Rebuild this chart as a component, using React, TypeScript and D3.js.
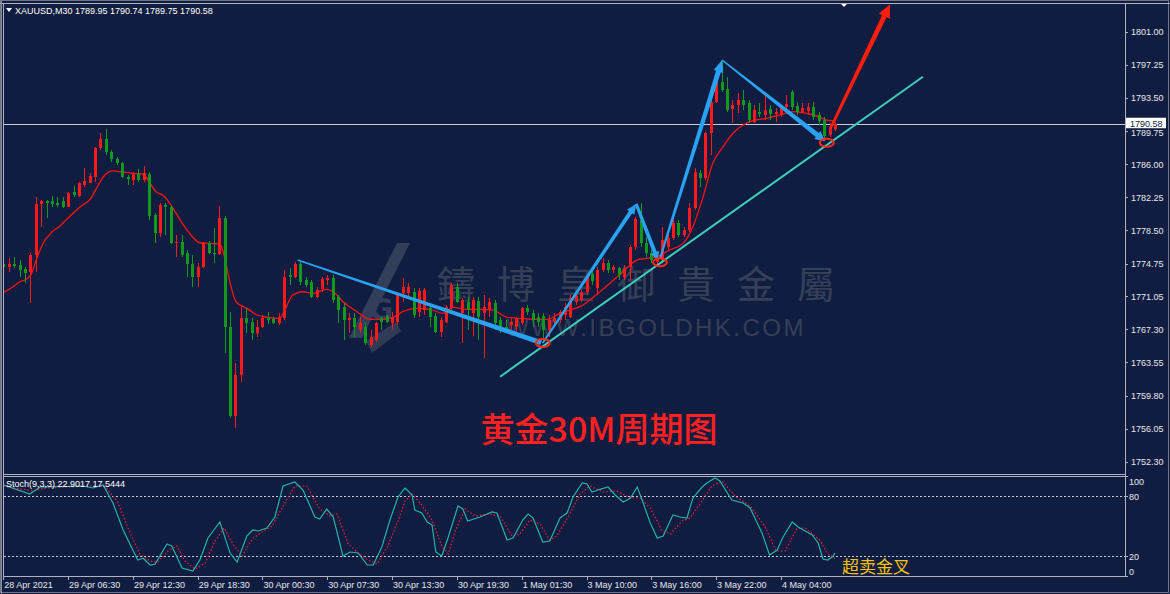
import React from "react";
import * as d3 from "d3";

// ---------- DATA ----------
const openP = [
  1774.69, 1774.35, 1774.69, 1774.58, 1774.13, 1773.79, 1775.71, 1781.49, 1781.83, 1781.83,
  1781.60, 1781.83, 1781.15, 1782.85, 1782.39, 1783.64, 1783.87, 1784.55, 1787.83, 1788.85,
  1787.38, 1786.58, 1786.13, 1784.55, 1784.21, 1784.88, 1784.21, 1784.88, 1780.24, 1778.20,
  1781.37, 1781.15, 1777.07, 1777.18, 1775.94, 1774.69, 1773.22, 1774.35, 1777.07, 1775.94,
  1775.82, 1779.90, 1767.56, 1757.48, 1762.12, 1768.58, 1768.12, 1766.88, 1767.56, 1768.58,
  1768.46, 1768.01, 1768.58, 1773.45, 1773.22, 1774.69, 1772.88, 1772.65, 1770.96, 1771.86,
  1772.88, 1773.11, 1770.96, 1769.82, 1768.35, 1768.58, 1767.22, 1767.56, 1765.52, 1766.09,
  1768.58, 1768.80, 1768.01, 1768.12, 1771.41, 1771.41, 1771.52, 1769.26, 1769.48, 1769.71,
  1768.80, 1766.99, 1768.12, 1769.71, 1772.09, 1769.14, 1770.39, 1769.14, 1770.50, 1769.14,
  1769.48, 1770.28, 1768.35, 1767.56, 1767.78, 1767.56, 1768.01, 1769.71, 1769.14, 1768.69,
  1768.80, 1767.22, 1768.12, 1768.35, 1768.92, 1768.69, 1770.39, 1770.62, 1771.52, 1773.56,
  1771.97, 1774.01, 1774.81, 1774.01, 1774.24, 1773.22, 1774.35, 1776.62, 1779.68, 1777.07,
  1775.94, 1774.92, 1775.15, 1776.62, 1777.64, 1779.34, 1777.98, 1778.54, 1781.03, 1785.00,
  1784.43, 1789.53, 1793.04, 1795.30, 1794.51, 1792.25, 1792.70, 1793.27, 1792.93, 1790.77,
  1791.91, 1791.57, 1792.25, 1791.68, 1791.68, 1792.47, 1794.17, 1792.59, 1791.91, 1792.02,
  1792.47, 1791.57, 1791.00, 1789.30, 1789.95,
];
const highP = [
  1775.49, 1775.37, 1775.49, 1775.15, 1774.35, 1775.94, 1782.28, 1781.94, 1781.94, 1782.39,
  1782.28, 1782.28, 1782.85, 1783.53, 1783.98, 1785.56, 1785.00, 1787.94, 1789.53, 1789.98,
  1787.60, 1786.81, 1786.24, 1784.77, 1785.11, 1785.45, 1785.79, 1785.11, 1780.47, 1781.60,
  1781.60, 1781.37, 1777.98, 1777.98, 1776.28, 1775.71, 1774.81, 1777.18, 1777.30, 1778.77,
  1781.26, 1780.13, 1769.26, 1763.48, 1769.82, 1769.71, 1768.58, 1768.35, 1768.92, 1769.26,
  1768.69, 1769.14, 1774.01, 1774.24, 1774.92, 1774.92, 1773.22, 1772.88, 1772.09, 1773.22,
  1773.45, 1773.45, 1771.18, 1770.28, 1769.14, 1769.14, 1768.69, 1768.01, 1767.22, 1768.12,
  1768.69, 1768.92, 1769.26, 1771.52, 1773.11, 1772.54, 1771.97, 1771.97, 1771.97, 1770.05,
  1769.14, 1768.69, 1770.05, 1772.54, 1772.54, 1770.84, 1770.96, 1770.96, 1770.96, 1771.18,
  1770.84, 1770.62, 1768.69, 1768.35, 1768.58, 1768.69, 1769.82, 1770.05, 1769.48, 1769.14,
  1769.14, 1768.92, 1769.14, 1769.48, 1770.28, 1771.18, 1771.41, 1771.86, 1773.45, 1774.01,
  1774.35, 1775.37, 1775.15, 1774.58, 1774.35, 1774.58, 1776.84, 1780.01, 1781.60, 1777.75,
  1776.28, 1775.94, 1778.88, 1777.98, 1779.68, 1779.68, 1778.88, 1781.60, 1785.56, 1785.34,
  1789.64, 1793.27, 1796.10, 1797.70, 1795.87, 1793.27, 1794.06, 1794.40, 1793.27, 1792.70,
  1792.93, 1793.83, 1792.70, 1792.36, 1792.70, 1793.83, 1794.40, 1793.04, 1792.93, 1792.93,
  1793.04, 1791.91, 1791.34, 1790.66, 1790.74,
];
const lowP = [
  1774.01, 1773.79, 1774.24, 1773.22, 1772.54, 1770.28, 1773.79, 1778.88, 1779.90, 1781.15,
  1781.15, 1781.03, 1781.15, 1782.28, 1782.28, 1783.41, 1783.87, 1783.98, 1787.60, 1787.04,
  1786.24, 1785.90, 1784.43, 1783.64, 1783.64, 1783.98, 1783.98, 1779.68, 1777.07, 1777.75,
  1777.98, 1776.96, 1775.49, 1775.49, 1773.22, 1772.09, 1772.09, 1774.24, 1775.82, 1774.81,
  1775.71, 1764.61, 1757.30, 1756.12, 1761.33, 1766.88, 1766.09, 1766.43, 1767.44, 1767.90,
  1767.90, 1767.78, 1768.35, 1772.31, 1773.11, 1772.31, 1772.09, 1770.84, 1770.84, 1771.52,
  1772.31, 1770.28, 1768.01, 1766.09, 1766.88, 1766.43, 1766.88, 1765.52, 1765.29, 1765.86,
  1767.22, 1768.01, 1767.22, 1767.78, 1770.39, 1770.96, 1768.58, 1768.69, 1768.92, 1767.56,
  1766.88, 1766.43, 1768.01, 1769.48, 1770.28, 1765.75, 1767.22, 1766.50, 1766.09, 1764.05,
  1768.69, 1767.22, 1766.88, 1766.88, 1767.22, 1766.88, 1767.78, 1768.92, 1767.56, 1767.56,
  1765.75, 1766.43, 1767.78, 1768.01, 1768.35, 1768.58, 1770.05, 1770.39, 1771.30, 1772.31,
  1771.18, 1773.79, 1773.67, 1773.67, 1772.88, 1772.88, 1772.88, 1776.28, 1776.62, 1775.49,
  1774.81, 1774.58, 1774.81, 1776.28, 1777.41, 1777.75, 1777.75, 1778.32, 1780.81, 1783.41,
  1784.21, 1787.04, 1792.93, 1794.17, 1791.91, 1790.66, 1791.79, 1792.13, 1790.77, 1790.66,
  1791.34, 1791.00, 1791.00, 1790.77, 1791.34, 1791.91, 1792.13, 1791.57, 1791.79, 1791.57,
  1791.00, 1790.43, 1788.70, 1789.08, 1789.75,
];
const closeP = [
  1774.35, 1774.69, 1774.47, 1774.01, 1773.67, 1775.71, 1781.49, 1781.83, 1781.60, 1781.49,
  1781.37, 1781.15, 1782.73, 1782.51, 1783.87, 1784.09, 1784.66, 1787.83, 1788.85, 1787.38,
  1786.58, 1786.13, 1784.55, 1784.32, 1784.88, 1784.21, 1785.00, 1780.13, 1778.20, 1781.37,
  1781.15, 1777.07, 1777.18, 1775.71, 1774.69, 1773.22, 1774.35, 1777.07, 1775.94, 1775.82,
  1779.90, 1767.56, 1757.48, 1762.12, 1768.58, 1768.01, 1766.88, 1767.56, 1768.58, 1768.35,
  1768.01, 1768.69, 1773.22, 1773.22, 1774.69, 1772.65, 1772.31, 1770.96, 1771.75, 1772.99,
  1773.11, 1770.62, 1769.48, 1768.35, 1768.58, 1767.56, 1768.01, 1765.75, 1766.43, 1768.01,
  1768.12, 1768.12, 1768.69, 1771.41, 1772.09, 1772.09, 1768.92, 1771.63, 1771.75, 1768.69,
  1766.99, 1768.35, 1769.82, 1772.31, 1770.39, 1770.62, 1769.48, 1770.62, 1768.69, 1769.82,
  1770.39, 1768.01, 1767.22, 1767.22, 1768.12, 1768.58, 1769.71, 1769.26, 1768.35, 1768.12,
  1767.22, 1768.35, 1768.58, 1769.26, 1769.82, 1770.84, 1771.07, 1771.52, 1773.22, 1772.77,
  1774.01, 1774.81, 1774.01, 1774.35, 1773.45, 1774.24, 1776.62, 1779.79, 1777.07, 1775.94,
  1775.15, 1775.49, 1777.41, 1777.64, 1779.34, 1777.98, 1778.54, 1781.03, 1785.11, 1784.43,
  1789.53, 1793.04, 1795.30, 1794.40, 1792.13, 1792.70, 1793.27, 1792.70, 1791.00, 1792.13,
  1791.68, 1792.13, 1791.68, 1791.91, 1792.47, 1792.81, 1792.47, 1791.91, 1792.36, 1792.47,
  1791.34, 1790.89, 1789.19, 1790.21, 1790.58,
];

// moving average (at sample bars)
const maIdx = [
  0, 1.8, 3.1, 4.0, 5.1, 6.1, 7.4, 9.0, 10.5, 12.0, 14.2, 16.1, 17.4, 18.5, 20.3, 21.6, 24.0, 25.9,
  26.8, 28.1, 29.9, 31.4, 33.1, 34.9, 36.4, 38.3, 40.1, 41.1, 42.0, 43.1, 45.1, 47.0, 48.8, 51.1,
  53.6, 55.5, 57.4, 59.9, 61.1, 62.9, 65.5, 67.9, 70.3, 72.2, 74.0, 76.6, 79.0, 81.4, 83.3, 85.9,
  88.3, 90.7, 93.3, 95.7, 98.1, 100.7, 103.1, 104.9, 106.8, 110.5, 113.6, 115.5, 117.4, 119.2,
  121.0, 123.4, 125.9, 127.7, 129.6, 131.4, 133.3, 135.1, 137.0, 138.8, 141.4, 143.8, 146.2,
  148.8, 150.7, 152.5, 154,
];
const maVal = [
  1771.44, 1772.12, 1772.69, 1772.88, 1773.45, 1775.15, 1777.07, 1778.32, 1779.0, 1779.9, 1781.15,
  1782.05, 1783.41, 1784.55, 1785.23, 1785.15, 1784.96, 1784.88, 1784.21, 1782.99, 1782.31, 1781.03,
  1779.34, 1777.86, 1777.1, 1777.03, 1776.96, 1775.15, 1772.54, 1770.42, 1769.67, 1768.92, 1768.66,
  1768.54, 1771.18, 1771.55, 1771.37, 1771.83, 1771.55, 1770.42, 1769.29, 1768.43, 1768.43, 1768.66,
  1769.29, 1769.67, 1769.56, 1769.11, 1769.79, 1769.56, 1769.56, 1769.48, 1768.66, 1768.54, 1768.43,
  1768.43, 1769.11, 1769.48, 1769.86, 1771.55, 1773.2, 1774.24, 1775.15, 1775.34, 1775.52, 1776.28,
  1777.03, 1778.92, 1782.31, 1786.13, 1787.98, 1789.49, 1790.43, 1790.92, 1791.19, 1791.57, 1791.94,
  1791.76, 1791.45, 1791.0, 1790.92,
];

// Stochastic %K and %D (bar index, value)
const stochMain: [number, number][] = [
  [0, 91], [4.9, 82], [6.8, 89], [14.8, 90], [16.6, 88], [18.5, 91], [20.3, 73], [22.2, 46],
  [23.8, 28], [24.9, 16], [25.9, 17.7], [27.2, 11], [28.1, 11.7], [30.3, 32], [31.2, 30], [33.1, 8],
  [35.1, 5], [36.4, 16], [37.9, 38], [40.1, 54], [42, 23], [43.3, 14], [45.1, 40], [46.2, 46],
  [47.2, 45], [48.8, 48], [50.3, 59], [51.8, 90], [54, 94], [55.5, 86], [57.7, 59], [58.6, 57],
  [59.9, 67], [61.1, 59], [62.9, 20], [64.2, 24], [65.7, 23], [67.4, 11], [68.5, 11], [70.1, 29],
  [71.6, 56], [73.1, 79], [74.4, 88], [75.7, 81], [76.2, 66], [77.5, 63], [78.5, 54], [79.4, 51],
  [80.1, 24], [81.2, 20], [82.4, 39], [84.2, 70], [85.1, 67], [86, 55], [88.3, 59], [90.5, 64],
  [91.4, 63], [93.3, 36], [94.4, 38], [96.2, 56], [97.2, 62], [98.1, 58], [99.9, 34], [101.2, 35],
  [103.1, 58], [104.4, 63], [105.5, 79], [107.2, 93], [108.1, 92], [109, 84], [110.5, 86.7],
  [112, 89], [113.3, 81], [114.8, 74], [116.1, 77.7], [117.4, 89], [118.5, 73], [119.8, 53],
  [121.1, 38], [122.2, 40], [124, 61], [125.3, 59], [126.6, 58], [127.7, 78], [129.4, 89],
  [130.3, 93], [131.8, 98], [132.7, 95], [134.9, 76], [137, 73], [138.3, 68], [140.5, 43],
  [141.9, 21], [143.3, 26], [144.4, 39], [146.1, 54], [147.2, 49], [149.8, 41], [150.9, 33],
  [151.8, 17], [152.7, 16], [153.7, 20], [154, 22.9],
];
const stochSignal: [number, number][] = [
  [0, 90], [5.5, 85], [7.7, 88], [16.1, 90], [18.8, 90], [21.2, 74], [23.1, 48], [25.3, 22],
  [27.2, 15], [28.5, 14], [30.5, 25], [32.2, 30], [33.6, 15], [35.5, 7], [37.4, 13], [39.2, 35],
  [40.9, 48], [42.5, 32], [44.2, 20], [46.1, 37], [47.9, 44], [49.8, 50], [51.8, 70], [54, 90],
  [56.2, 90], [58.6, 67], [60.5, 60], [61.8, 62], [63.8, 33], [65.5, 24], [67.5, 16], [69.2, 12],
  [71.2, 30], [73.1, 55], [74.4, 75], [75.7, 82], [77.2, 73], [79.4, 56], [81.2, 30], [82.4, 22],
  [83.7, 45], [85.5, 67], [87.4, 60], [90.1, 62], [92, 60], [94.2, 40], [95.7, 42], [97.5, 56],
  [99.4, 52], [101.2, 36], [102.5, 40], [104.9, 62], [106.8, 82], [108.6, 90], [111.1, 84],
  [113.6, 85], [116.1, 78], [117.9, 78], [119.8, 68], [122, 45], [123.5, 42], [125.7, 55],
  [127.2, 58], [129, 72], [131.2, 90], [133.1, 95], [135.5, 80], [138.3, 70], [141, 50],
  [143.1, 25], [144.8, 25], [147, 48], [148.5, 48], [151.2, 36], [152.7, 22], [154, 17.54],
];

const priceTicks = [1801.0, 1797.25, 1793.5, 1789.75, 1786.0, 1782.25, 1778.5, 1774.75, 1771.05, 1767.3, 1763.55, 1759.8, 1756.05, 1752.3];
const stochTicks = [100, 80, 20, 0];
const stochLevels = [80, 20];
const timeTickIdx = [0, 12, 24, 36, 48, 60, 72, 84, 96, 108, 120, 132, 144];
const timeTickLabels = [
  "28 Apr 2021", "29 Apr 06:30", "29 Apr 12:30", "29 Apr 18:30", "30 Apr 00:30", "30 Apr 07:30",
  "30 Apr 13:30", "30 Apr 19:30", "1 May 01:30", "3 May 10:00", "3 May 16:00", "3 May 22:00", "4 May 04:00",
];
const lastPrice = 1790.58;

// drawn objects (bar index, price)
const blueLinePts: [number, number][] = [[54.5, 1775.15], [99.6, 1765.8]];
const blueArrowPts: [number, number][][] = [
  [[99.9, 1765.75], [117.2, 1781.5]],
  [[117.2, 1781.5], [121.2, 1775.15]],
  [[121.6, 1775.3], [133.1, 1797.8]],
  [[133.1, 1797.8], [152.2, 1788.6]],
];
const redArrowPts: [number, number][] = [[153.3, 1790.2], [164.2, 1804.1]];
const tealLinePts: [number, number][] = [[92.0, 1761.93], [170.3, 1795.9]];
const circlePts: [number, number][] = [[99.9, 1765.75], [121.6, 1774.88], [152.5, 1788.43]];

// ---------- DRAWING ----------
const BG = "#101d40";
const FRAME = "#aeb3bf";
const UP = "#ff1a1a";
const DOWN = "#119a1a";
const FONT = "'Liberation Sans', Arial, sans-serif";

function arrowPoly(p0: number[], p1: number[], w0: number, w1: number, hl: number, hw: number) {
  const dx = p1[0] - p0[0], dy = p1[1] - p0[1];
  const L = Math.hypot(dx, dy);
  const ux = dx / L, uy = dy / L;
  const nx = -uy, ny = ux;
  const sx = p1[0] - ux * hl, sy = p1[1] - uy * hl;
  const pts: number[][] = [
    [p0[0] + nx * w0 / 2, p0[1] + ny * w0 / 2],
    [sx + nx * w1 / 2, sy + ny * w1 / 2],
  ];
  if (hl > 0) {
    pts.push([sx + nx * hw / 2, sy + ny * hw / 2], [p1[0], p1[1]], [sx - nx * hw / 2, sy - ny * hw / 2]);
  } else {
    pts.push([p1[0] + nx * w1 / 2, p1[1] + ny * w1 / 2], [p1[0] - nx * w1 / 2, p1[1] - ny * w1 / 2]);
  }
  pts.push([sx - nx * w1 / 2, sy - ny * w1 / 2], [p0[0] - nx * w0 / 2, p0[1] - ny * w0 / 2]);
  return pts.map((p) => p.join(",")).join(" ");
}

export default function App() {
  const x = d3.scaleLinear().domain([0, 154]).range([3.3, 834.9]);
  const y = d3.scaleLinear().domain([1750.91, 1804.14]).range([474, 4]);
  const ys = d3.scaleLinear().domain([0, 100]).range([576, 476]);

  const P = (d: [number, number]) => [x(d[0]), y(d[1])];

  const maLine = d3
    .line<number>()
    .x((_, i) => x(maIdx[i]))
    .y((v) => y(v))
    .curve(d3.curveMonotoneX)(maVal) as string;

  const stLine = d3
    .line<[number, number]>()
    .x((d) => x(d[0]))
    .y((d) => ys(d[1]));

  const plotR = 1125;
  const lastY = y(lastPrice);

  return (
    <svg width={1170} height={594} style={{ position: "absolute", left: 0, top: 0, display: "block" }} fontFamily={FONT}>
      <defs>
        <clipPath id="mainClip"><rect x={4} y={5} width={plotR - 4} height={469} /></clipPath>
        <clipPath id="stClip"><rect x={4} y={477} width={plotR - 4} height={99} /></clipPath>
      </defs>
      <rect x={0} y={0} width={1170} height={594} fill={BG} />

      {/* watermark */}
      <g opacity={0.85}>
        <polygon points="397,243 410,243 362,338 349,338" fill="#3a4460" />
        <text x={381} y={320} fontSize={30} fontWeight="bold" fill="#3a4460" textAnchor="middle" fontFamily="'DejaVu Sans', sans-serif">G</text>
        <polygon points="366,341 396,322 401,331 372,353" fill="#36405a" />
        <text x={437} y={298} fontSize={38} fill="#3c455c" fontFamily="'Noto Sans CJK TC', sans-serif" letterSpacing={22}>鑄博皇御貴金屬</text>
        <text x={806} y={336} fontSize={24} fill="#3c455c" textAnchor="end" letterSpacing={2.5} fontFamily="'Liberation Sans', sans-serif">WWW.IBGOLDHK.COM</text>
      </g>

      <g clipPath="url(#mainClip)">
        {/* current price line */}
        <line x1={4} x2={plotR} y1={Math.round(lastY) + 0.5} y2={Math.round(lastY) + 0.5} stroke="#c9ccd4" strokeWidth={1} />
        {/* MA */}
        <path d={maLine} fill="none" stroke="#ff1010" strokeWidth={1.3} />
        {/* candles */}
        {openP.map((o, i) => {
          const c = closeP[i];
          const up = c >= o;
          const col = up ? UP : DOWN;
          const cx = Math.round(x(i)) + 0.5;
          const top = y(Math.max(o, c));
          const bot = y(Math.min(o, c));
          return (
            <g key={i}>
              <line x1={cx} x2={cx} y1={y(highP[i])} y2={y(lowP[i])} stroke={col} strokeWidth={1} />
              <rect x={cx - 1.5} y={top} width={3} height={Math.max(1, bot - top)} fill={col} />
            </g>
          );
        })}
        {/* teal trend line */}
        <line x1={P(tealLinePts[0])[0]} y1={P(tealLinePts[0])[1]} x2={P(tealLinePts[1])[0]} y2={P(tealLinePts[1])[1]} stroke="#3ccfbb" strokeWidth={2} />
        {/* blue down line */}
        <polygon points={arrowPoly(P(blueLinePts[0]), P(blueLinePts[1]), 1.5, 5, 0, 0)} fill="#2aa2f2" />
        {blueArrowPts.map((seg, i) => {
          const w0 = [2, 3, 2, 1.5][i];
          const w1 = [4, 4, 5, 5][i];
          const hl = [10, 8, 12, 10][i];
          const hw = [9, 9, 10, 10][i];
          return <polygon key={i} points={arrowPoly(P(seg[0]), P(seg[1]), w0, w1, hl, hw)} fill="#2aa2f2" />;
        })}
        {/* red arrow */}
        <polygon points={arrowPoly(P(redArrowPts[0]), P(redArrowPts[1]), 2.5, 5, 13, 12)} fill="#ff1e0a" />
        {circlePts.map((c, i) => (
          <ellipse key={i} cx={x(c[0])} cy={y(c[1])} rx={7} ry={4} fill="none" stroke="#ff2a14" strokeWidth={2} />
        ))}
      </g>

      {/* titles */}
      <text x={599} y={442} fontSize={34} fill="#ff2020" textAnchor="middle" fontWeight={500} fontFamily="'Noto Sans CJK SC', sans-serif">黄金30M周期图</text>
      <polygon points="6,8 12,8 9,12" fill="#ffffff" />
      <text x={15} y={14} fontSize={9} fill="#ffffff">XAUUSD,M30  1789.95 1790.74 1789.75 1790.58</text>
      <polygon points="840,3 848,3 844,7" fill="#ffffff" />

      {/* stochastic */}
      <g clipPath="url(#stClip)">
        {stochLevels.map((v) => (
          <line key={v} x1={4} x2={plotR} y1={Math.round(ys(v)) + 0.5} y2={Math.round(ys(v)) + 0.5} stroke="#c8ccd4" strokeDasharray="2,2" strokeWidth={1} />
        ))}
        <path d={stLine(stochSignal) as string} fill="none" stroke="#e8203c" strokeWidth={1.2} strokeDasharray="1.5,2" />
        <path d={stLine(stochMain) as string} fill="none" stroke="#22b2aa" strokeWidth={1.2} />
      </g>
      <text x={6} y={487} fontSize={9} fill="#ffffff">Stoch(9,3,3) 22.9017 17.5444</text>
      <text x={842} y={573} fontSize={17} fill="#f6c410" fontFamily="'Noto Sans CJK SC', sans-serif">超卖金叉</text>

      {/* frames */}
      <rect x={0.5} y={0.5} width={1168} height={592} fill="none" stroke="#6e7486" />
      <line x1={0} x2={1170} y1={3.5} y2={3.5} stroke={FRAME} />
      <line x1={3.5} x2={3.5} y1={3} y2={577} stroke={FRAME} />
      <line x1={1.5} x2={1.5} y1={0} y2={594} stroke="#8a90a0" />
      <line x1={plotR + 0.5} x2={plotR + 0.5} y1={3} y2={577} stroke={FRAME} />
      <line x1={3} x2={plotR} y1={474.5} y2={474.5} stroke={FRAME} />
      <line x1={3} x2={plotR} y1={476.5} y2={476.5} stroke={FRAME} />
      <line x1={3} x2={plotR} y1={576.5} y2={576.5} stroke={FRAME} />

      {/* price axis */}
      {priceTicks.map((p) => {
        const ty = y(p);
        const shift = Math.abs(ty - lastY) < 12 ? 1.5 : 0;
        return (
          <g key={p}>
            <line x1={plotR} x2={plotR + 3} y1={Math.round(ty) + 0.5} y2={Math.round(ty) + 0.5} stroke={FRAME} />
            <text x={plotR + 6} y={ty + 3.5 + shift} fontSize={9} fill="#e6e8ee">{p.toFixed(2)}</text>
          </g>
        );
      })}
      <rect x={plotR + 1} y={lastY - 6} width={40} height={10.5} fill="#ffffff" />
      <text x={plotR + 5} y={lastY + 2.8} fontSize={9} fill="#101d40">{lastPrice.toFixed(2)}</text>

      {/* stoch axis */}
      {stochTicks.map((v) => {
        const yy = Math.min(571, Math.max(481.7, ys(v)));
        return (
          <g key={v}>
            <line x1={plotR} x2={plotR + 3} y1={Math.round(ys(v)) + 0.5} y2={Math.round(ys(v)) + 0.5} stroke={FRAME} />
            <text x={plotR + 4} y={yy + 3.5} fontSize={9} fill="#e6e8ee">{v}</text>
          </g>
        );
      })}

      {/* time axis */}
      {timeTickIdx.map((t, i) => (
        <g key={t}>
          <line x1={Math.round(x(t)) + 0.5} x2={Math.round(x(t)) + 0.5} y1={577} y2={580} stroke={FRAME} />
          <text x={x(t) + 1} y={588} fontSize={9} fill="#e6e8ee">{timeTickLabels[i]}</text>
        </g>
      ))}
    </svg>
  );
}
